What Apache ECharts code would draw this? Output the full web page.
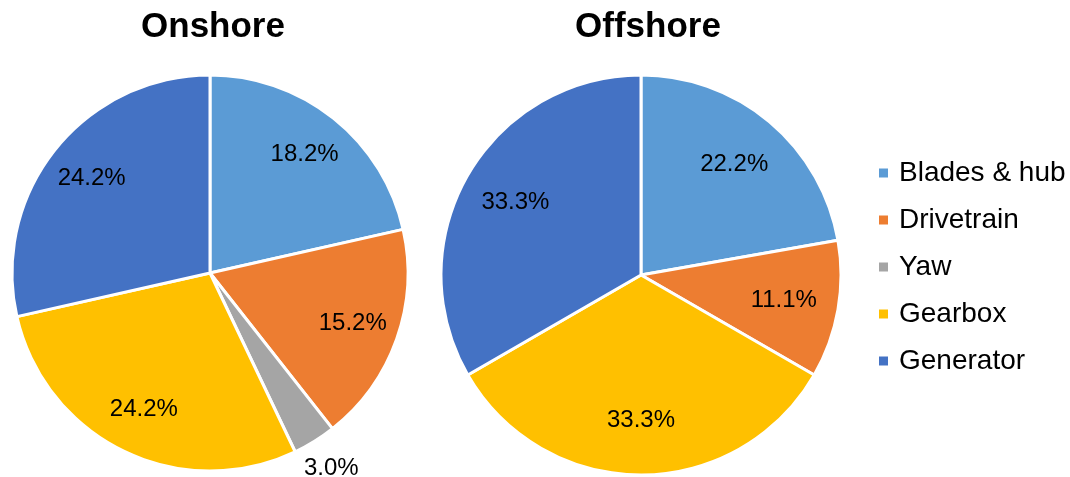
<!DOCTYPE html>
<html>
<head>
<meta charset="utf-8">
<script src="https://cdn.jsdelivr.net/npm/echarts@6/dist/echarts.min.js"></script>
<style>
  html, body { margin: 0; padding: 0; background: #fff; }
  #chart { width: 1070px; height: 477px; }
</style>
</head>
<body>
<div id="chart"></div>
<script>
// component failure shares (%), as labelled
const components = ['Blades & hub', 'Drivetrain', 'Yaw', 'Gearbox', 'Generator'];
const onshoreShare = [18.2, 15.2, 3.0, 24.2, 24.2];
const offshoreShare = [22.2, 11.1, 0, 33.3, 33.3];
const colors = ['#5B9BD5', '#ED7D31', '#A5A5A5', '#FFC000', '#4472C4'];

const font = 'Liberation Sans, Arial, sans-serif';

function toData(values, labelFor) {
  return components
    .map((name, i) => {
      const item = { name, value: values[i], itemStyle: { color: colors[i] } };
      if (labelFor) {
        item.label = { show: labelFor(name) };
      }
      return item;
    })
    .filter(d => d.value > 0);
}

// one pie plus two transparent rings that only carry the labels
function piePair(values, center, r, labelRatio, outsideNames) {
  const base = {
    type: 'pie',
    center,
    startAngle: 90,
    clockwise: true,
    silent: true,
    animation: false
  };
  const labelStyle = {
    position: 'inside',
    formatter: p => p.value.toFixed(1) + '%',
    color: '#000',
    fontSize: 24,
    fontFamily: font
  };
  const ghost = d => Object.assign(d, { itemStyle: { color: 'transparent' } });
  return [
    Object.assign({}, base, {
      radius: [0, r],
      data: toData(values),
      itemStyle: { borderColor: '#fff', borderWidth: 3 },
      label: { show: false },
      labelLine: { show: false }
    }),
    Object.assign({}, base, {
      radius: [Math.round(r * labelRatio), r],
      data: toData(values, n => outsideNames.indexOf(n) < 0).map(ghost),
      itemStyle: { borderWidth: 0 },
      label: labelStyle,
      labelLine: { show: false }
    }),
    Object.assign({}, base, {
      radius: [r, r + 58],
      data: toData(values, n => outsideNames.indexOf(n) >= 0).map(ghost),
      itemStyle: { borderWidth: 0 },
      label: labelStyle,
      labelLine: { show: false }
    })
  ];
}

const chart = echarts.init(document.getElementById('chart'), null, { renderer: 'canvas' });

const titleStyle = { fontSize: 35, fontWeight: 'bold', color: '#000', fontFamily: font };

const option = {
  backgroundColor: '#fff',
  color: colors,
  title: [
    { text: 'Onshore', left: 208, top: 5, textAlign: 'center', textStyle: titleStyle },
    { text: 'Offshore', left: 643, top: 5, textAlign: 'center', textStyle: titleStyle }
  ],
  legend: {
    orient: 'vertical',
    left: 872,
    top: 154,
    icon: 'rect',
    itemWidth: 11,
    itemHeight: 11,
    itemGap: 19,
    selectedMode: false,
    data: components,
    textStyle: {
      fontSize: 28,
      color: '#000',
      fontFamily: font,
      padding: [0, 0, 0, 5]
    }
  },
  series: [].concat(
    piePair(onshoreShare, [210, 273], 198, 0.5, ['Yaw']),
    piePair(offshoreShare, [641, 275], 200, 0.42, [])
  )
};

chart.setOption(option);
</script>
</body>
</html>
